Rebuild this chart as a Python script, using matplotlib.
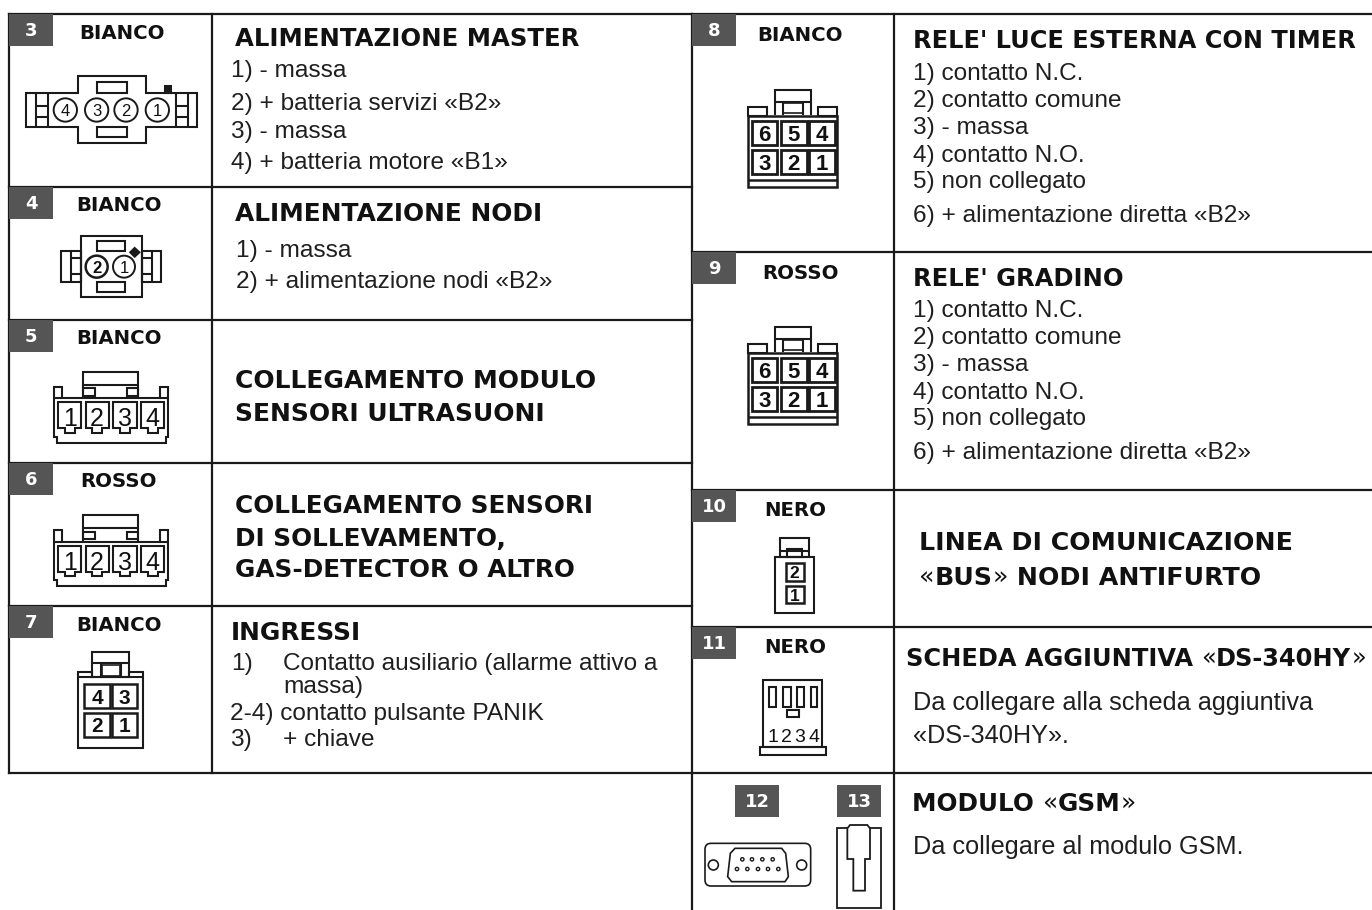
import matplotlib
matplotlib.use("Agg")
import matplotlib.pyplot as plt
from matplotlib.patches import Rectangle, Polygon, Circle, FancyBboxPatch

# numeri dei connettori, colori e posizione dei riquadri
numeri = ["3", "4", "5", "6", "7", "8", "9", "10", "11"]
colori = ["BIANCO", "BIANCO", "BIANCO", "ROSSO", "BIANCO", "BIANCO", "ROSSO", "NERO", "NERO"]
badge_x = [9, 9, 9, 9, 9, 692, 692, 692, 692]
badge_y = [14, 187, 320, 463, 606, 14, 252, 490, 627]
colore_x = [122, 119, 119, 119, 119, 800, 800, 795.5, 795.5]
colore_y = [39, 211, 344, 487, 631, 41, 279, 516, 653]

# titoli (testo, x, y sulla linea di base, corpo)
titoli = [
    ("ALIMENTAZIONE MASTER", 235, 46, 17.6),
    ("ALIMENTAZIONE NODI", 235, 221, 17.9),
    ("COLLEGAMENTO MODULO", 235, 388, 18.0),
    ("SENSORI ULTRASUONI", 235, 421, 18.0),
    ("COLLEGAMENTO SENSORI", 235, 513, 17.8),
    ("DI SOLLEVAMENTO,", 235, 546, 17.8),
    ("GAS-DETECTOR O ALTRO", 235, 577, 17.8),
    ("INGRESSI", 231, 640, 17.9),
    ("RELE' LUCE ESTERNA CON TIMER", 913, 48, 17.3),
    ("RELE' GRADINO", 913, 286, 17.5),
    ("LINEA DI COMUNICAZIONE", 919, 550, 18.2),
]

# righe di testo normale (testo, x, y sulla linea di base)
rele = ["1) contatto N.C.", "2) contatto comune", "3) - massa", "4) contatto N.O.",
        "5) non collegato", "6) + alimentazione diretta «B2»"]
rele_y8 = [80, 107, 134, 162, 188, 222]
rele_y9 = [317, 344, 371, 399, 425, 459]
righe = [
    ("1) - massa", 231, 77),
    ("2) + batteria servizi «B2»", 231, 110),
    ("3) - massa", 231, 138),
    ("4) + batteria motore «B1»", 231, 169),
    ("1) - massa", 236, 257),
    ("2) + alimentazione nodi «B2»", 236, 288),
    ("1)", 231, 670),
    ("Contatto ausiliario (allarme attivo a", 283, 670),
    ("massa)", 283, 693),
    ("2-4) contatto pulsante PANIK", 230, 720),
    ("3)", 230, 746),
    ("+ chiave", 283, 746),
]
righe_grandi = [
    ("Da collegare alla scheda aggiuntiva", 913, 710),
    ("«DS-340HY».", 913, 743),
    ("Da collegare al modulo GSM.", 913, 854),
]

GRIGIO = "#555555"
NERO = "#1a1a1a"
CORPO = "#1f1f1f"
TITOLO_PT = 17.6
CORPO_PT = 17.6
CIFRE = "Liberation Sans"

fig = plt.figure(figsize=(13.72, 9.10), dpi=100)
ax = fig.add_axes([0, 0, 1, 1])
ax.set_xlim(0, 1372)
ax.set_ylim(910, 0)
ax.axis("off")


def linea(xs, ys, lw=1.5):
    ax.plot(xs, ys, color=NERO, lw=lw, solid_capstyle="projecting", solid_joinstyle="miter")


def titolo(x, y, s, size=TITOLO_PT, peso="bold"):
    return ax.text(x, y, s, family="DejaVu Sans", weight=peso, fontsize=size, color="#111111",
                   ha="left", va="baseline")


def misto(x, y, pezzi, size=TITOLO_PT):
    # titoli con le virgolette piu' leggere del testo
    r = fig.canvas.get_renderer()
    for s, peso in pezzi:
        t = titolo(x, y, s, size, peso)
        x = x + t.get_window_extent(r).width


# griglia delle tabelle
for x0, x1, xm, ys in [(9, 692, 212, [14, 187, 320, 463, 606, 773]),
                       (692, 1372, 894, [14, 252, 490, 627, 773])]:
    for y in ys:
        linea([x0, x1], [y, y], 1.6)
    linea([xm, xm], [ys[0], ys[-1]], 1.6)
linea([9, 9], [14, 773], 1.6)
linea([692, 692], [14, 910], 1.6)
linea([894, 894], [773, 910], 1.6)

# riquadri grigi con il numero
for n, c, bx, by, cx, cy in zip(numeri, colori, badge_x, badge_y, colore_x, colore_y):
    ax.add_patch(Rectangle((bx, by), 44, 32, fc=GRIGIO, ec="none", zorder=3))
    ax.text(bx + 22, by + 22, n, family="DejaVu Sans", weight="bold", fontsize=13, color="white",
            ha="center", va="baseline", zorder=4)
    ax.text(cx, cy, c, family="DejaVu Sans", weight="bold", fontsize=14.2, color="#111111",
            ha="center", va="baseline")
for n, bx in [("12", 735), ("13", 837)]:
    ax.add_patch(Rectangle((bx, 785), 44, 32, fc=GRIGIO, ec="none", zorder=3))
    ax.text(bx + 22, 807, n, family="DejaVu Sans", weight="bold", fontsize=13, color="white",
            ha="center", va="baseline", zorder=4)

for s, x, y, pt in titoli:
    titolo(x, y, s, pt)
misto(919, 585, [("«", "normal"), ("BUS", "bold"), ("»", "normal"), (" NODI ANTIFURTO", "bold")], 18.2)
misto(906, 666, [("SCHEDA AGGIUNTIVA ", "bold"), ("«", "normal"), ("DS-340HY", "bold"), ("»", "normal")], 17.4)
misto(912, 811, [("MODULO ", "bold"), ("«", "normal"), ("GSM", "bold"), ("»", "normal")], 17.8)


def corpo(x, y, s, size=CORPO_PT):
    ax.text(x, y, s, family="Liberation Sans", fontsize=size, color=CORPO, ha="left", va="baseline")


for s, x, y in righe:
    corpo(x, y, s)
for s, x, y in righe_grandi:
    corpo(x, y, s, 18.2)
for s, y8, y9 in zip(rele, rele_y8, rele_y9):
    corpo(913, y8, s)
    corpo(913, y9, s)


# i connettori sono misurati sugli ingrandimenti 3x: (ox, oy) + coordinate/3
class Disegno:
    def __init__(self, ox, oy):
        self.ox, self.oy = ox, oy

    def p(self, x, y):
        return self.ox + x / 3, self.oy + y / 3

    def box(self, x0, y0, x1, y1, lw=1.5, fc="none"):
        px, py = self.p(x0, y0)
        ax.add_patch(Rectangle((px, py), (x1 - x0) / 3, (y1 - y0) / 3, fc=fc, ec=NERO, lw=lw))

    def poly(self, pts, lw=1.5, fc="none"):
        ax.add_patch(Polygon([self.p(*q) for q in pts], closed=True, fc=fc, ec=NERO, lw=lw))

    def seg(self, x0, y0, x1, y1, lw=1.5):
        a, b = self.p(x0, y0), self.p(x1, y1)
        ax.plot([a[0], b[0]], [a[1], b[1]], color=NERO, lw=lw, solid_capstyle="butt")

    def cerchio(self, x, y, r, lw=1.4, fc="none"):
        ax.add_patch(Circle(self.p(x, y), r / 3, fc=fc, ec=NERO, lw=lw))

    def num(self, x, y, s, size=13, weight="normal"):
        px, py = self.p(x, y)
        ax.text(px, py, s, family=CIFRE, weight=weight, fontsize=size, color="#111111",
                ha="center", va="center_baseline")


# connettore 3
d = Disegno(0, 0)
d.poly([(78, 278), (235, 278), (235, 228), (437, 228), (437, 278), (592, 278), (592, 380),
        (437, 380), (437, 430), (235, 430), (235, 380), (78, 380)])
for x in (108, 145, 527, 565):
    d.seg(x, 278, x, 380)
for x0, x1 in ((108, 145), (527, 565)):
    d.seg(x0, 318, x1, 318)
    d.seg(x0, 350, x1, 350)
d.box(290, 245, 382, 278)
d.box(290, 380, 382, 412)
for x, s in zip((196, 290, 378, 472), "4321"):
    d.cerchio(x, 330, 35)
    d.num(x, 330, s, 12)
d.box(495, 257, 513, 278, fc=NERO)

# connettore 4
d.box(242, 708, 425, 890)
d.box(182, 752, 242, 845)
d.box(425, 752, 482, 845)
for x0, x1 in ((212, 242), (425, 455)):
    d.seg(x0, 752, x0, 845)
    d.seg(x1, 752, x1, 845)
    d.seg(x0, 775, x1, 775)
    d.seg(x0, 822, x1, 822)
d.box(292, 722, 375, 752)
d.box(290, 845, 375, 875)
for x, s in zip((290, 372), "21"):
    d.cerchio(x, 800, 33, fc="white", lw=1.8 if s == "2" else 1.4)
    d.num(x, 800, s, 12, weight="bold" if s == "2" else "normal")
d.poly([(404, 744), (418, 757), (404, 770), (391, 757)], fc=NERO)


# connettori 5 e 6 (stesso disegno)
def quattro_vie(oy):
    c = Disegno(0, oy)
    c.box(250, 155, 415, 195)
    c.seg(250, 195, 250, 235)
    c.seg(415, 195, 415, 235)
    c.box(250, 205, 285, 228)
    c.box(380, 205, 415, 228)
    c.poly([(162, 200), (185, 200), (185, 235), (480, 235), (480, 200), (503, 200), (503, 350),
            (497, 350), (497, 368), (170, 368), (170, 350), (162, 350)])
    c.seg(162, 235, 185, 235)
    c.seg(480, 235, 503, 235)
    for (x0, x1), s in zip(((175, 243), (257, 326), (340, 410), (424, 493)), "1234"):
        m = (x0 + x1) / 2
        c.poly([(x0, 247), (x1, 247), (x1, 325), (m + 15, 325), (m + 15, 338), (m - 15, 338),
                (m - 15, 325), (x0, 325)])
        c.num(m, 290, s, 18)


quattro_vie(320)
quattro_vie(320 + 430 / 3)

# connettore 7
d = Disegno(0, 320)
d.box(277, 997, 388, 1030)
d.seg(277, 1030, 277, 1072)
d.seg(388, 1030, 388, 1072)
d.seg(303, 1030, 303, 1072)
d.seg(362, 1030, 362, 1072)
d.box(305, 1035, 360, 1068, lw=1.2)
d.poly([(235, 1055), (277, 1055), (277, 1072), (388, 1072), (388, 1055), (430, 1055), (430, 1285),
        (235, 1285)])
d.seg(235, 1072, 430, 1072)
for x0, x1, y0, y1, s in [(252, 330, 1092, 1165, "4"), (335, 412, 1092, 1165, "3"),
                          (252, 330, 1178, 1250, "2"), (335, 412, 1178, 1250, "1")]:
    d.box(x0, y0, x1, y1, lw=1.8)
    d.num((x0 + x1) / 2, (y0 + y1) / 2, s, 15, weight="bold")


# connettori 8 e 9
def sei_vie(oy):
    c = Disegno(690, oy)
    c.box(255, 270, 362, 305)
    for x in (255, 280, 338, 362):
        c.seg(x, 305, x, 345)
    c.box(280, 310, 338, 340, lw=1.2)
    c.box(175, 322, 232, 348)
    c.box(385, 322, 442, 348)
    c.box(175, 348, 442, 560, lw=1.8)
    c.seg(175, 540, 442, 540, lw=1.8)
    celle = [(185, 262, 362, 435, "6"), (272, 350, 362, 435, "5"), (358, 435, 362, 435, "4"),
             (185, 262, 450, 522, "3"), (272, 350, 450, 522, "2"), (358, 435, 450, 522, "1")]
    for x0, x1, y0, y1, s in celle:
        c.box(x0, y0, x1, y1, lw=2.0)
        c.num((x0 + x1) / 2, (y0 + y1) / 2, s, 16, weight="bold")


sei_vie(0)
sei_vie(237)

# connettori 10, 11, 12, 13
d = Disegno(690, 480)
d.box(270, 173, 357, 230)
d.seg(270, 213, 357, 213)
d.box(292, 208, 335, 230)
d.box(255, 230, 373, 398)
d.box(287, 250, 342, 303, lw=1.8)
d.box(287, 317, 342, 370, lw=1.8)
d.num(314, 276, "2", 12.5, weight="bold")
d.num(314, 344, "1", 12.5, weight="bold")

d.box(220, 600, 397, 800)
for x0, x1 in ((236, 258), (280, 302), (320, 342), (362, 382)):
    d.box(x0, 620, x1, 680)
d.box(292, 690, 326, 712)
d.box(210, 800, 408, 825)
for x, s in zip((248, 288, 330, 372), "1234"):
    d.num(x, 765, s, 14)

ox, oy = d.p(45, 1090)
ax.add_patch(FancyBboxPatch((ox, oy), (362 - 45) / 3, (1218 - 1090) / 3,
                            boxstyle="round,pad=0,rounding_size=6", fc="none", ec=NERO, lw=1.2))
d.cerchio(70, 1155, 15, lw=1.2)
d.cerchio(335, 1155, 15, lw=1.2)
d.poly([(135, 1105), (275, 1105), (287, 1120), (295, 1190), (285, 1205), (125, 1205),
        (113, 1190), (121, 1120)], lw=1.2)
for x in (157, 186, 217, 248):
    d.cerchio(x, 1138, 5, lw=1.0)
for x in (141, 172, 204, 234, 265):
    d.cerchio(x, 1167, 5, lw=1.0)

d.box(441, 1045, 572, 1283, lw=1.3)
d.poly([(480, 1035), (532, 1035), (540, 1045), (540, 1137), (525, 1137), (525, 1232), (490, 1232),
        (490, 1137), (472, 1137), (472, 1045)], lw=1.3, fc="white")

fig.savefig("out.png", dpi=100)
